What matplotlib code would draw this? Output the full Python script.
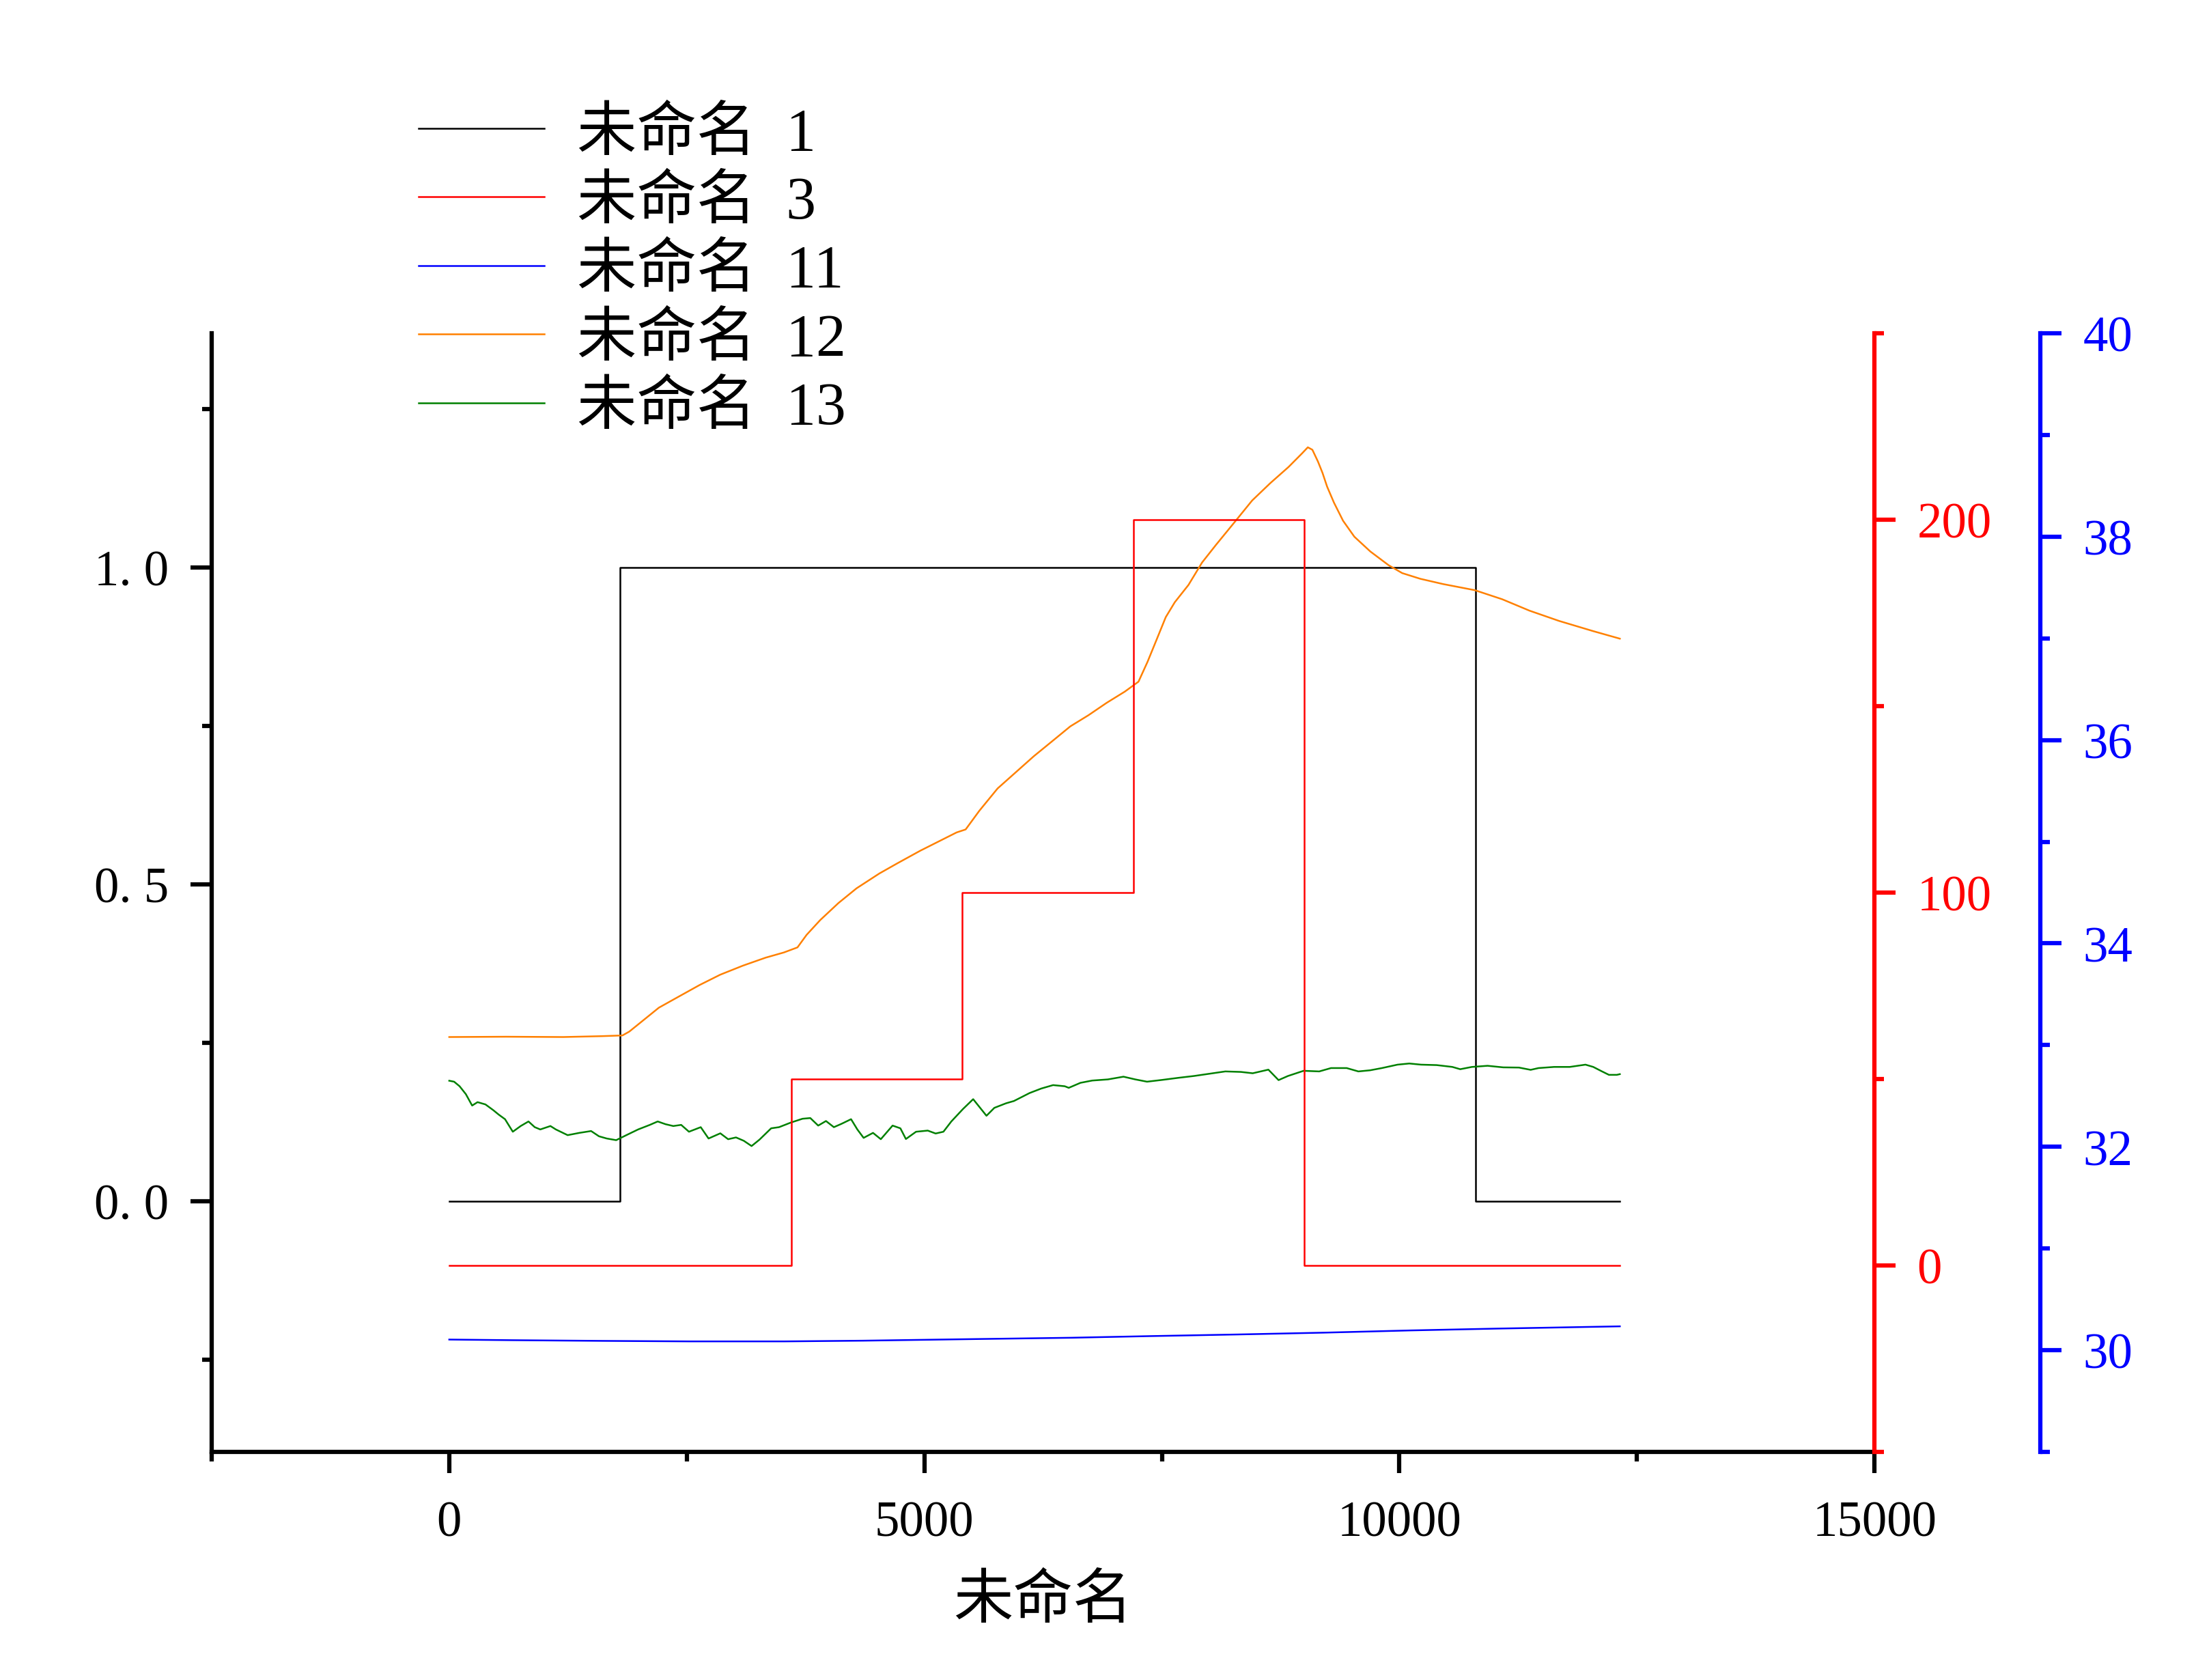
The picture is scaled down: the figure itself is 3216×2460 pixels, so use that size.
import numpy as np
import matplotlib
matplotlib.use('Agg')
import matplotlib.pyplot as plt
from matplotlib.ticker import MultipleLocator, FuncFormatter

plt.rcParams['font.family'] = ['Liberation Serif', 'Noto Sans CJK SC']
plt.rcParams['axes.unicode_minus'] = False

# 未命名 1 (左轴, 阶跃)
x1 = [0, 1800, 10800, 12320]
y1 = [0, 1, 0, 0]

# 未命名 3 (红色右轴, 阶跃)
x3 = [0, 3600, 5400, 7200, 9000, 12320]
y3 = [0, 50, 100, 200, 0, 0]

# 未命名 11 (蓝色右轴)
x11 = [0, 651, 1612, 2526, 3531, 4357, 5547, 6553, 7377, 8294, 9209, 10125, 11039, 12320]
y11 = [30.105, 30.099, 30.092, 30.087, 30.087, 30.094, 30.110, 30.123, 30.139, 30.155,
       30.173, 30.195, 30.213, 30.235]

# 未命名 12 (左轴)
x12 = [0, 600, 1200, 1608, 1823, 1895, 2014, 2206, 2421, 2636, 2852, 3091, 3330, 3522, 3665,
       3761, 3904, 4096, 4287, 4527, 4718, 4957, 5340, 5435, 5579, 5771, 5962, 6153, 6345,
       6536, 6727, 6919, 7110, 7254, 7349, 7445, 7541, 7636, 7780, 7923, 8067, 8259, 8450,
       8641, 8833, 8976, 9036, 9084, 9143, 9191, 9239, 9311, 9407, 9526, 9694, 9885, 10029,
       10220, 10459, 10794, 11082, 11369, 11680, 12039, 12320]
y12 = [0.259, 0.2595, 0.259, 0.2604, 0.2615, 0.2676, 0.2820, 0.3053, 0.3233, 0.3412, 0.3574,
       0.3717, 0.3843, 0.3925, 0.4005, 0.4203, 0.4436, 0.4705, 0.4938, 0.5172, 0.5334, 0.5531,
       0.5820, 0.5867, 0.6162, 0.6514, 0.6769, 0.7024, 0.7259, 0.7494, 0.7670, 0.7866, 0.8043,
       0.8200, 0.8513, 0.8865, 0.9219, 0.9454, 0.9727, 1.0081, 1.0355, 1.0707, 1.1060, 1.1334,
       1.1589, 1.1805, 1.1900, 1.1861, 1.1674, 1.1494, 1.1279, 1.1027, 1.0740, 1.0488, 1.0255,
       1.0040, 0.9914, 0.9824, 0.9741, 0.9644, 0.9501, 0.9321, 0.9159, 0.8998, 0.8879]

# 未命名 13 (左轴)
x13 = [0, 51, 109, 175, 241, 298, 381, 463, 521, 587, 669, 752, 834, 900, 958, 1065, 1122,
       1246, 1370, 1493, 1576, 1658, 1757, 1864, 1988, 2111, 2194, 2276, 2358, 2441, 2523,
       2647, 2729, 2853, 2935, 3018, 3100, 3182, 3265, 3388, 3471, 3594, 3718, 3800, 3883,
       3965, 4048, 4130, 4229, 4295, 4361, 4460, 4542, 4666, 4748, 4806, 4913, 5036, 5119,
       5201, 5284, 5407, 5514, 5597, 5654, 5737, 5860, 5943, 6108, 6231, 6355, 6478, 6520,
       6643, 6767, 6932, 7096, 7220, 7344, 7508, 7673, 7838, 8003, 8168, 8332, 8456, 8621,
       8728, 8827, 8992, 9156, 9280, 9445, 9568, 9692, 9816, 9980, 10104, 10228, 10392,
       10557, 10640, 10763, 10928, 11093, 11258, 11381, 11464, 11628, 11793, 11958, 12040,
       12123, 12205, 12288, 12320]
y13 = [0.190, 0.1885, 0.1813, 0.1688, 0.1508, 0.1562, 0.1526, 0.1436, 0.1365, 0.1293, 0.1095,
       0.1185, 0.1257, 0.1167, 0.1131, 0.1185, 0.1131, 0.1041, 0.1077, 0.1106, 0.1023, 0.0988,
       0.0962, 0.1041, 0.1131, 0.1203, 0.1257, 0.1214, 0.1185, 0.1203, 0.1095, 0.1167, 0.0988,
       0.1070, 0.0977, 0.1005, 0.0952, 0.0869, 0.0970, 0.1149, 0.1167, 0.1239, 0.1300, 0.1311,
       0.1192, 0.1264, 0.1167, 0.1221, 0.1293, 0.1131, 0.0998, 0.1077, 0.0977, 0.1192, 0.1149,
       0.0980, 0.1095, 0.1113, 0.1067, 0.1095, 0.1257, 0.1454, 0.1609, 0.1454, 0.1347, 0.1472,
       0.1544, 0.1580, 0.1706, 0.1777, 0.1831, 0.1813, 0.1788, 0.1867, 0.1903, 0.1921, 0.1964,
       0.1921, 0.1885, 0.1914, 0.1946, 0.1975, 0.2011, 0.2047, 0.2039, 0.2018, 0.2075, 0.1910,
       0.1975, 0.2057, 0.2047, 0.2100, 0.2100, 0.2047, 0.2065, 0.2100, 0.2154, 0.2172, 0.2154,
       0.2147, 0.2118, 0.2082, 0.2118, 0.2136, 0.2111, 0.2108, 0.2072, 0.2100, 0.2118, 0.2118,
       0.2154, 0.2118, 0.2054, 0.1993, 0.1993, 0.2004]

labels = ['未命名  1', '未命名  3', '未命名  11', '未命名  12', '未命名  13']

fig = plt.figure(figsize=(10.72, 8.2033), dpi=300)
ax = fig.add_axes([0.0964, 0.1357, 0.7572, 0.6656])
ax2 = ax.twinx()
ax3 = ax.twinx()
ax3.spines['right'].set_position(('axes', 1.0998))

lw = 0.6
h1, = ax.plot(x1, y1, drawstyle='steps-post', color='black', lw=lw)
h12, = ax.plot(x12, y12, color='#ff8000', lw=lw)
h13, = ax.plot(x13, y13, color='#008000', lw=lw)
h3, = ax2.plot(x3, y3, drawstyle='steps-post', color='red', lw=lw)
h11, = ax3.plot(x11, y11, color='blue', lw=lw)

ax.set_xlim(-2500, 15000)
ax.set_ylim(-0.396, 1.37)
ax2.set_ylim(-50, 250)
ax3.set_ylim(29, 40)

ax.xaxis.set_major_locator(MultipleLocator(5000))
ax.xaxis.set_minor_locator(MultipleLocator(2500))
ax.yaxis.set_major_locator(MultipleLocator(0.5))
ax.yaxis.set_minor_locator(MultipleLocator(0.25))
ax.yaxis.set_major_formatter(FuncFormatter(lambda v, p: f'{v:.1f}'.replace('.', '. ')))
ax2.yaxis.set_major_locator(MultipleLocator(100))
ax2.yaxis.set_minor_locator(MultipleLocator(50))
ax3.yaxis.set_major_locator(MultipleLocator(2))
ax3.yaxis.set_minor_locator(MultipleLocator(1))

for s in ['top', 'right']:
    ax.spines[s].set_visible(False)
for a in [ax2, ax3]:
    for s in ['top', 'left', 'bottom']:
        a.spines[s].set_visible(False)
for s in ['left', 'bottom']:
    ax.spines[s].set_linewidth(1.5)
ax2.spines['right'].set_color('red')
ax2.spines['right'].set_linewidth(1.5)
ax3.spines['right'].set_color('blue')
ax3.spines['right'].set_linewidth(1.5)

ax.xaxis.set_ticks_position('bottom')
ax.yaxis.set_ticks_position('left')
for a, c in [(ax, 'black'), (ax2, 'red'), (ax3, 'blue')]:
    a.tick_params(which='major', direction='out', length=7.5, width=1.5, labelsize=17.5,
                  pad=7.5, color=c, labelcolor=c)
    a.tick_params(which='minor', direction='out', length=3.3, width=1.5, color=c)
ax.tick_params(axis='x', which='major', pad=9.5)

ax.set_xlabel('未命名', fontsize=21, labelpad=10)

fig.legend([h1, h3, h11, h12, h13], labels, loc='upper left', bbox_to_anchor=(0.1906, 0.936),
           frameon=False, fontsize=21, handlelength=2.1, handletextpad=0.55,
           labelspacing=0.22, borderpad=0, borderaxespad=0)

fig.savefig('out.png', dpi=300)
